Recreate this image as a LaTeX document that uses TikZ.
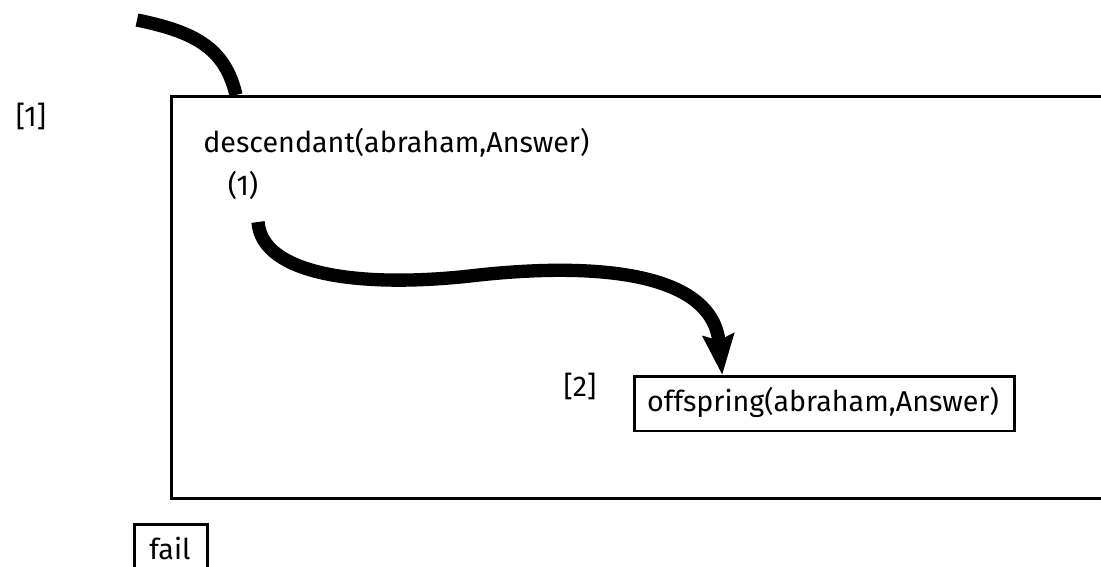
\documentclass[tikz,border=0pt]{standalone}
\usepackage{fontspec}
\setmainfont{Fira Sans}
\usetikzlibrary{arrows.meta}
\begin{document}
\begin{tikzpicture}[x=0.75pt,y=-0.75pt,
  txt/.style={font=\fontsize{21.5}{24}\selectfont, inner sep=0pt},
  framebox/.style={draw, line width=1.9pt, inner sep=0pt, font=\fontsize{21.5}{24}\selectfont},
  thick arrow/.style={line width=10pt},
]
\useasboundingbox (0,0) rectangle (1101,567);
% big goal box (open to the right)
\node[draw, line width=1.9pt, minimum width=720pt, minimum height=301.5pt, anchor=north west, inner sep=0pt] (goal) at (170,95) {};
\node[txt] (l1) at (31,116) {[1]};
\node[txt, anchor=base west] (desc) at (203,152) {descendant(abraham,Answer)};
\node[txt] (c1) at (243,185) {(1)};
\node[txt] (l2) at (580,386) {[2]};
\node[framebox, minimum width=285pt, minimum height=41pt, anchor=north west] (off) at (633,375) {};
\node[txt] (offt) at (823,402) {offspring(abraham,Answer)};
\node[framebox, minimum width=55pt, minimum height=40pt, anchor=north west] (fail) at (133,523) {};
\node[txt] (failt) at (170,548) {fail};
\coordinate (s0) at (137,20);
\coordinate (s1) at (258,222);
\draw[thick arrow] (s0) .. controls (195,32) and (225,48) .. ([xshift=49.5pt]goal.north west);
\draw[thick arrow, -{Stealth[length=30pt,width=23pt,inset=4pt]}]
  (s1) .. controls (262,275) and (360,288) .. (470,276)
  .. controls (590,262) and (712,270) .. ([xshift=-76.5pt]off.north);
\end{tikzpicture}
\end{document}
